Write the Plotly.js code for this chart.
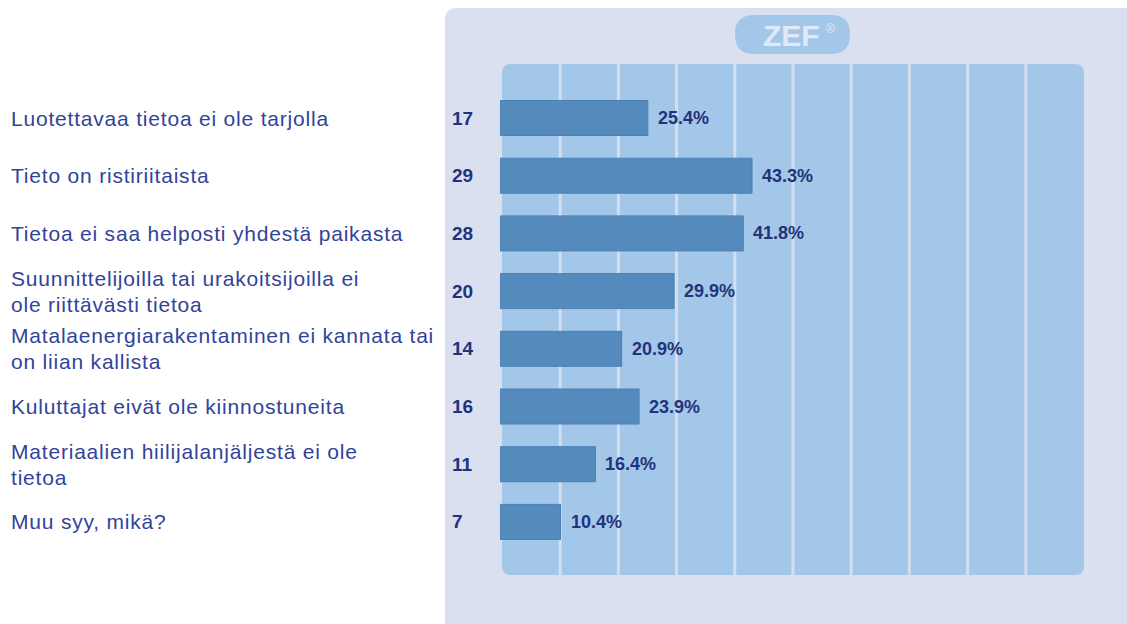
<!DOCTYPE html>
<html>
<head>
<meta charset="utf-8">
<script src="https://cdn.plot.ly/plotly-3.0.1.min.js"></script>
<style>html,body{margin:0;padding:0;background:#fff;}#chart{width:1127px;height:624px;}</style>
</head>
<body>
<div id="chart"></div>
<script>
// ---- data ----
const categories = [
  "Luotettavaa tietoa ei ole tarjolla",
  "Tieto on ristiriitaista",
  "Tietoa ei saa helposti yhdestä paikasta",
  "Suunnittelijoilla tai urakoitsijoilla ei<br>ole riittävästi tietoa",
  "Matalaenergiarakentaminen ei kannata tai<br>on liian kallista",
  "Kuluttajat eivät ole kiinnostuneita",
  "Materiaalien hiilijalanjäljestä ei ole<br>tietoa",
  "Muu syy, mikä?"
];
const counts = [17, 29, 28, 20, 14, 16, 11, 7];
const percents = [25.4, 43.3, 41.8, 29.9, 20.9, 23.9, 16.4, 10.4];
const gridSteps = [10, 20, 30, 40, 50, 60, 70, 80, 90];

// ---- geometry helpers (pixel -> paper) ----
const W = 1127, H = 624;
const M = {l: 500, r: 45, t: 64, b: 49};
const PW = W - M.l - M.r, PH = H - M.t - M.b;
const px = x => (x - M.l) / PW;
const py = y => (H - M.b - y) / PH;

function roundRect(x0, y0, x1, y1, r) {
  const X = px, Y = py;
  return `M ${X(x0 + r)} ${Y(y0)} L ${X(x1 - r)} ${Y(y0)} Q ${X(x1)} ${Y(y0)} ${X(x1)} ${Y(y0 + r)} ` +
         `L ${X(x1)} ${Y(y1 - r)} Q ${X(x1)} ${Y(y1)} ${X(x1 - r)} ${Y(y1)} ` +
         `L ${X(x0 + r)} ${Y(y1)} Q ${X(x0)} ${Y(y1)} ${X(x0)} ${Y(y1 - r)} ` +
         `L ${X(x0)} ${Y(y0 + r)} Q ${X(x0)} ${Y(y0)} ${X(x0 + r)} ${Y(y0)} Z`;
}

const shapes = [
  {type: 'path', xref: 'paper', yref: 'paper', layer: 'below',
   path: roundRect(445, 8, 1160, 660, 12), fillcolor: '#dae0f0', line: {width: 0}},
  {type: 'path', xref: 'paper', yref: 'paper', layer: 'below',
   path: roundRect(502, 64, 1084, 575, 9), fillcolor: '#a3c7e8', line: {width: 0}},
  {type: 'path', xref: 'paper', yref: 'paper', layer: 'below',
   path: roundRect(735, 15, 850, 54, 19), fillcolor: '#a3c7e8', line: {width: 0}}
];
gridSteps.forEach(g => {
  shapes.push({type: 'line', xref: 'x', yref: 'paper', layer: 'below',
    x0: g + 0.34, x1: g + 0.34, y0: 0, y1: 1,
    line: {color: '#d4deef', width: 3}});
});

const annotations = [];
const labelFont = {family: 'Liberation Sans, Arial, sans-serif', size: 21, color: '#31439a'};
categories.forEach((c, i) => {
  const lines = c.split('<br>');
  lines.forEach((ln, j) => {
    const shift = lines.length === 1 ? 0 : (j === 0 ? 13 : -13);
    annotations.push({xref: 'paper', yref: 'y', x: px(9), y: c,
      text: '<span style="letter-spacing:0.8px">' + ln + '</span>',
      xanchor: 'left', yanchor: 'middle', showarrow: false, yshift: shift,
      font: labelFont});
  });
  annotations.push({xref: 'paper', yref: 'y', x: px(450), y: c, text: '<b>' + counts[i] + '</b>',
    xanchor: 'left', yanchor: 'middle', showarrow: false,
    font: {family: 'Liberation Sans, Arial, sans-serif', size: 19, color: '#23327c'}});
  annotations.push({xref: 'x', yref: 'y', x: percents[i], y: c, text: '<b>' + percents[i].toFixed(1) + '%</b>',
    xanchor: 'left', yanchor: 'middle', showarrow: false, xshift: 8,
    font: {family: 'Liberation Sans, Arial, sans-serif', size: 18, color: '#23327c'}});
});
annotations.push({xref: 'paper', yref: 'paper', x: px(791), y: py(35), text: '<b>ZEF</b>',
  xanchor: 'center', yanchor: 'middle', showarrow: false,
  font: {family: 'Liberation Sans, Arial, sans-serif', size: 30, color: '#e2e9f6'}});
annotations.push({xref: 'paper', yref: 'paper', x: px(830), y: py(29), text: '®',
  xanchor: 'center', yanchor: 'middle', showarrow: false,
  font: {family: 'Liberation Sans, Arial, sans-serif', size: 12, color: '#e2e9f6'}});

const trace = {
  type: 'bar', orientation: 'h',
  x: percents, y: categories,
  width: 0.607,
  marker: {color: '#548abc', line: {color: '#4b80b4', width: 1}},
  hoverinfo: 'skip'
};

const layout = {
  width: W, height: H,
  margin: M,
  paper_bgcolor: '#ffffff',
  plot_bgcolor: 'rgba(0,0,0,0)',
  showlegend: false,
  xaxis: {range: [0, 100], visible: false, showgrid: false, zeroline: false, fixedrange: true},
  yaxis: {type: 'category', range: [7.92, -0.936], visible: false, showgrid: false, zeroline: false, fixedrange: true},
  shapes: shapes,
  annotations: annotations
};

Plotly.newPlot('chart', [trace], layout, {displayModeBar: false, staticPlot: true});
</script>
</body>
</html>
